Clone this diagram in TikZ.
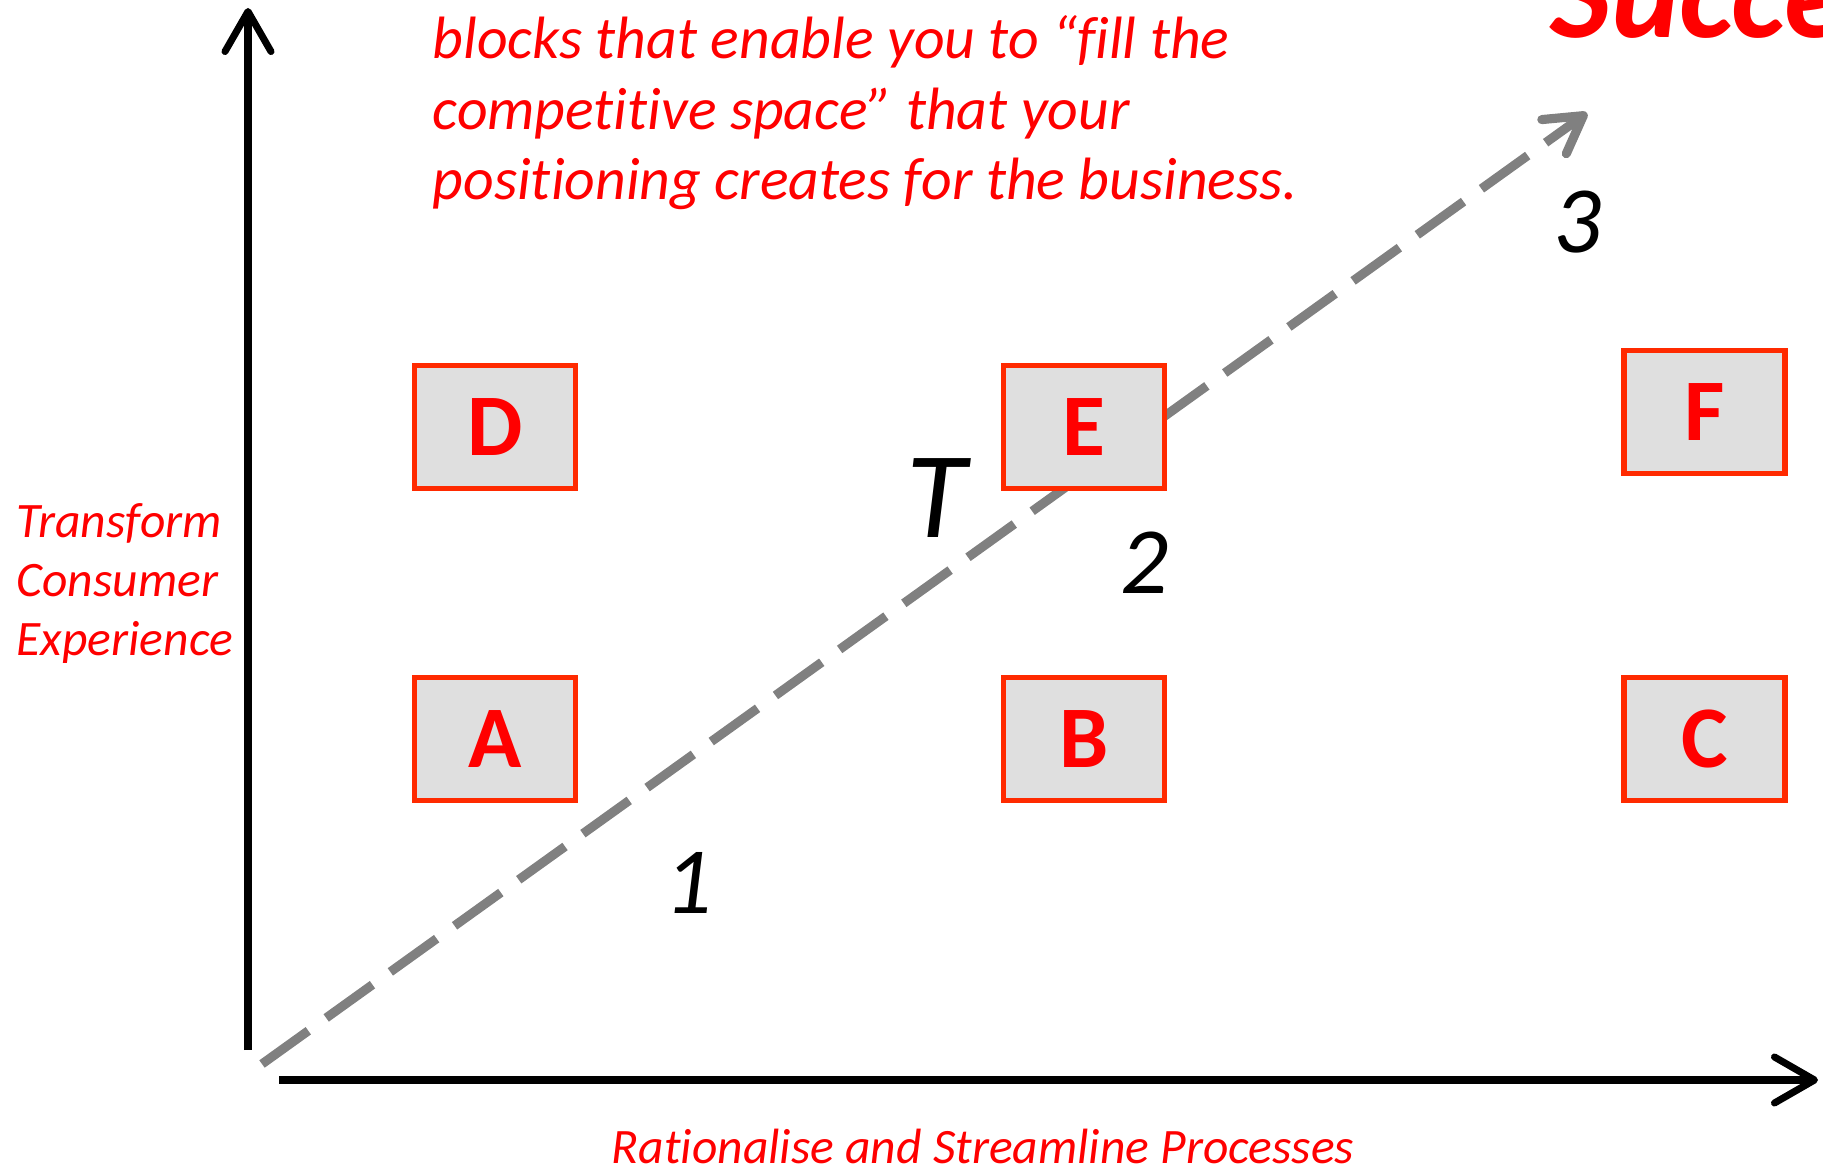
\documentclass[tikz,border=0pt]{standalone}
\usepackage{fontspec}
\setmainfont[Ligatures=NoCommon]{Carlito}
\usepackage{tikz}
\usetikzlibrary{arrows.meta,positioning}
\definecolor{LabelRed}{RGB}{255,0,0}
\definecolor{BlockRed}{RGB}{255,42,0}
\definecolor{BlockGray}{RGB}{223,223,223}
\definecolor{TrackGray}{RGB}{128,128,128}
\tikzset{
  block/.style={draw=BlockRed,fill=BlockGray,line width=1.5pt,minimum width=1.61cm,minimum height=1.23cm,text=LabelRed,font=\fontsize{25}{25}\selectfont\bfseries},
  axis/.style={line width=2pt,-{Straight Barb[length=4mm,width=4.6mm,round]}},
  track/.style={draw=TrackGray,line width=2.6pt,dash pattern=on 0.57cm off 0.22cm,-{Straight Barb[length=3.6mm,width=4.2mm,round]}},
  steplabel/.style={font=\fontsize{27}{27}\selectfont\itshape,anchor=base,inner sep=0pt},
  caption/.style={text=LabelRed,font=\fontsize{14.1}{16.9}\selectfont\itshape,inner sep=0pt,align=left}
}

\begin{document}
\begin{tikzpicture}
\useasboundingbox (0,0) rectangle (18.23,11.68);
\clip (0,0) rectangle (18.23,11.68);

\coordinate (yfoot) at (2.48,1.18);
\coordinate (ytop) at (2.48,11.60);
\coordinate (xfoot) at (2.79,0.88);
\coordinate (xtip) at (18.18,0.88);
\coordinate (start) at (2.62,1.04);
\coordinate (goal) at (15.87,10.55);

\draw[axis] (yfoot) -- (ytop);
\draw[axis] (xfoot) -- (xtip);
\draw[track] (start) -- (goal);

\node[block] (A) at (4.95,4.29) {A};
\node[block,right=4.23cm of A] (B) {B};
\node[block,right=4.54cm of B] (C) {C};
\node[block,above=1.84cm of A] (D) {D};
\node[block,above=1.84cm of B] (E) {E};
\node[block,above=1.99cm of C] (F) {F};

\node[steplabel] (one) at (6.89,2.55) {1};
\node[steplabel] (two) at (11.45,5.75) {2};
\node[steplabel] (three) at (15.78,9.15) {3};
\node[steplabel,font=\fontsize{35}{35}\selectfont\itshape] (tee) at (9.36,6.31) {T};

% multi-line captions sit on the baseline of their last line
\node[caption,anchor=base west,font=\fontsize{17}{20.2}\selectfont\itshape] (blurb) at (4.32,9.68)
  {blocks that enable you to “fill the\\competitive space” that your\\positioning creates for the business.};
\node[caption,anchor=base west] (ylabel) at (0.16,5.12) {Transform\\Consumer\\Experience};
\node[caption,anchor=base] (xlabel) at (9.83,0.05) {Rationalise and Streamline Processes};
\node[caption,anchor=base west,font=\fontsize{37}{37}\selectfont\bfseries\itshape] (goalword) at (15.50,11.30) {Success};
\end{tikzpicture}
\end{document}
